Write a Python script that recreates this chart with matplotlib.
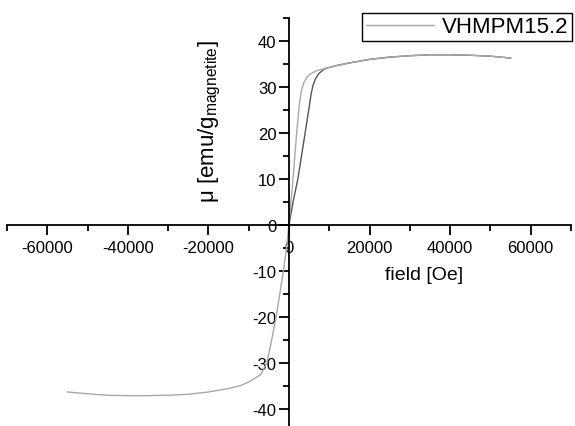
import matplotlib
matplotlib.use("Agg")
import matplotlib.pyplot as plt
from matplotlib.ticker import MultipleLocator

plt.rcParams['font.family'] = ['Liberation Sans', 'DejaVu Sans']
plt.rcParams['axes.unicode_minus'] = False

# virgin curve (0 -> +55 kOe)
virgin_field = [0, 1000, 2200, 3100, 4000, 4900, 5500, 6000, 6600, 7400, 8300, 9300, 12000,
                16000, 20000, 25000, 30000, 35000, 40000, 45000, 50000, 55000]
virgin_mu = [0, 5, 10, 15, 20, 25, 28.5, 30.5, 31.8, 32.9, 33.6, 34.1, 34.7,
             35.4, 36.0, 36.5, 36.8, 37.0, 37.0, 36.9, 36.7, 36.3]

# descending branch (+55 kOe -> -55 kOe)
desc_field = [55000, 50000, 45000, 40000, 35000, 30000, 25000, 20000, 16000, 12000,
              9000, 7000, 5600, 4500, 3700, 3100, 2600, 1900, 1000, 0, -600, -1400,
              -2300, -3200, -4300, -5500, -7000, -9700, -12000, -15400, -20000,
              -25000, -30000, -35000, -40000, -45000, -50000, -55000]
desc_mu = [36.3, 36.7, 36.9, 37.0, 37.0, 36.8, 36.5, 36.0, 35.4, 34.7,
           34.0, 33.6, 33.0, 32.2, 31.0, 29.3, 26.5, 20.0, 10.0, 0.5, -5, -10,
           -15, -20, -25, -30, -32.5, -34, -34.9, -35.6, -36.3,
           -36.8, -37.0, -37.1, -37.1, -37.0, -36.7, -36.3]

fig = plt.figure(figsize=(5.75, 4.27), dpi=100)
ax = fig.add_axes([7 / 575, -6 / 427, 564 / 575, 414 / 427])

ax.plot(virgin_field, virgin_mu, color="#555555", lw=1.0)
ax.plot(desc_field, desc_mu, color="#a8a8a8", lw=1.0, label="VHMPM15.2")

ax.set_xlim(-70000, 70000)
ax.set_ylim(-45, 45)

ax.spines['left'].set_position(('data', 0))
ax.spines['bottom'].set_position(('data', 0))
ax.spines['right'].set_visible(False)
ax.spines['top'].set_visible(False)
for s in ('left', 'bottom'):
    ax.spines[s].set_linewidth(1.3)

ax.xaxis.set_minor_locator(MultipleLocator(10000))
ax.yaxis.set_minor_locator(MultipleLocator(5))
ax.set_xticks([-60000, -40000, -20000, 0, 20000, 40000, 60000])
ax.set_yticks([-40, -30, -20, -10, 0, 10, 20, 30, 40])
ax.tick_params(which='major', direction='out', length=7, width=1.3, labelsize=12, pad=2)
ax.tick_params(which='minor', direction='out', length=4, width=1.3)
ax.tick_params(axis='x', which='major', pad=4)

fig.text(424 / 575, 1 - 275 / 427, "field [Oe]", fontsize=14, ha='center', va='center')
fig.text(210 / 575, 1 - 122 / 427, r"μ [emu/g$_{\mathregular{magnetite}}$]",
         fontsize=16, rotation=90, ha='center', va='center')

leg = ax.legend(loc='upper right', bbox_to_anchor=(572 / 575, 1 - 14 / 427),
                bbox_transform=fig.transFigure, fancybox=False, framealpha=1,
                edgecolor='black', fontsize=16, handlelength=3.1,
                borderpad=0.15, borderaxespad=0, handletextpad=0.35)
leg.get_frame().set_linewidth(1.0)

fig.savefig("out.png", dpi=100)
